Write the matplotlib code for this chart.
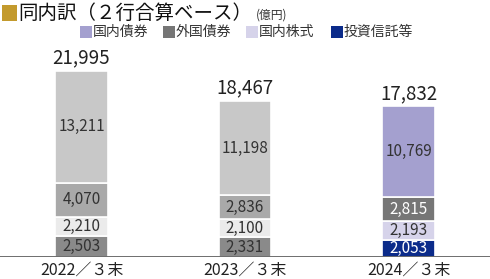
import matplotlib
matplotlib.use("Agg")
import matplotlib.pyplot as plt
from matplotlib.patches import Rectangle
import numpy as np

plt.rcParams['font.family'] = ['Noto Sans CJK JP', 'DejaVu Sans']

categories = ["2022／３末", "2023／３末", "2024／３末"]
series_names = ["投資信託等", "国内株式", "外国債券", "国内債券"]  # bottom -> top
inv_trusts = [2503, 2331, 2053]
dom_stocks = [2210, 2100, 2193]
for_bonds = [4070, 2836, 2815]
dom_bonds = [13211, 11198, 10769]
totals = [21995, 18467, 17832]

legend_order = ["国内債券", "外国債券", "国内株式", "投資信託等"]
hi_colors = {"国内債券": "#a4a0cf", "外国債券": "#767676", "国内株式": "#d6d3ea", "投資信託等": "#0b2b8a"}
grey_colors = {"国内債券": "#c8c8c8", "外国債券": "#a9a9a9", "国内株式": "#ebebeb", "投資信託等": "#8a8a8a"}
hi_text = {"国内債券": "#333333", "外国債券": "white", "国内株式": "#333333", "投資信託等": "white"}

W, H = 490, 279
fig = plt.figure(figsize=(W / 100, H / 100), dpi=100)
ax = fig.add_axes([0, 22 / H, 1, (257 - 50) / H])
ax.set_xlim(-0.498, 2.498)
ax.set_ylim(0, 207 / 0.00847)
ax.axis('off')

data = [inv_trusts, dom_stocks, for_bonds, dom_bonds]
x = np.arange(len(categories))
bw = 0.324
bottom = np.zeros(len(categories))
for name, vals in zip(series_names, data):
    vals = np.array(vals, dtype=float)
    for i in range(len(categories)):
        hl = (i == len(categories) - 1)
        col = hi_colors[name] if hl else grey_colors[name]
        ax.bar(x[i], vals[i], bottom=bottom[i], width=bw, color=col,
               edgecolor='white', linewidth=1.2)
        tc = hi_text[name] if hl else "#333333"
        ax.text(x[i], bottom[i] + vals[i] / 2, f"{int(vals[i]):,}", ha='center', va='center',
                fontsize=11, color=tc)
    bottom += vals

for i, t in enumerate(totals):
    ax.text(x[i], bottom[i] + 250, f"{t:,}", ha='center', va='bottom', fontsize=13.5, color="#222222")

# baseline
ax.axhline(0, color="#555555", linewidth=1.2, xmin=0, xmax=1)

for i, c in enumerate(categories):
    fig.text((81.5 + 163.5 * i) / W, 1 - 270 / H, c, ha='center', va='center', fontsize=11.5, color="#222222")

# title
fig.patches.append(Rectangle((2 / W, 1 - 21 / H), 15 / W, 16 / H, transform=fig.transFigure,
                             facecolor="#c39a2d", edgecolor='none'))
title = fig.text(18 / W, 1 - 13 / H, "同内訳（２行合算ベース）", ha='left', va='center', fontsize=14, color="#111111")
fig.canvas.draw()
bb = title.get_window_extent(renderer=fig.canvas.get_renderer())
fig.text((bb.x1 + 4) / W, 1 - 15 / H, "(億円)", ha='left', va='center', fontsize=8.5, color="#333333")

# legend
leg_x = [80, 163, 246, 331]
for lx, name in zip(leg_x, legend_order):
    fig.patches.append(Rectangle((lx / W, 1 - 38 / H), 12 / W, 12 / H, transform=fig.transFigure,
                                 facecolor=hi_colors[name], edgecolor='none'))
    fig.text((lx + 13) / W, 1 - 32 / H, name, ha='left', va='center', fontsize=10, color="#333333")

fig.savefig("out.png", dpi=100)
